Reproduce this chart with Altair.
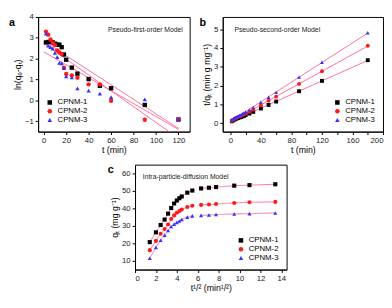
import altair as alt
import pandas as pd

series = ["CPNM-1", "CPNM-2", "CPNM-3"]
colors = ["#000000", "#ff1a1a", "#3333ff"]
shapes = ["square", "circle", "triangle-up"]
line_color = "#ff6f9a"

t_min = [2, 4, 6, 8, 10, 12, 14, 16, 18, 20, 25, 30, 40, 50, 60, 90, 120, 180]
sqrt_t = [1.41, 2.0, 2.45, 2.83, 3.16, 3.46, 3.74, 4.0, 4.24, 4.47, 5.0, 5.48, 6.32, 7.07, 7.75, 9.49, 10.95, 13.42]

# panel a: ln(qe - qt), t up to 120
t_a = [2, 4, 6, 8, 10, 12, 14, 16, 18, 20, 25, 30, 40, 50, 60, 90, 120]
ln_1 = [2.78, 2.80, 2.80, 2.78, 2.72, 2.68, 2.67, 2.55, 2.20, 1.95, 1.57, 1.28, 1.02, 0.70, 0.58, -0.22, -0.92]
ln_2 = [3.30, 3.15, 2.92, 2.75, 2.65, 2.40, 2.30, 2.22, 1.57, 1.27, 1.20, 1.09, 0.77, 0.77, -0.02, -0.93, -0.92]
ln_3 = [3.20, 2.63, 2.55, 2.48, 2.28, 2.08, 1.80, 1.78, 1.55, 1.15, 1.10, 0.58, 0.47, 0.32, 0.15, 0.05, -0.90]

# panel b: t/qt
tq_1 = [0.10, 0.15, 0.20, 0.24, 0.27, 0.30, 0.33, 0.36, 0.39, 0.43, 0.51, 0.60, 0.78, 0.97, 1.15, 1.70, 2.25, 3.35]
tq_2 = [0.12, 0.19, 0.24, 0.28, 0.33, 0.35, 0.39, 0.43, 0.47, 0.51, 0.61, 0.72, 0.95, 1.19, 1.41, 2.09, 2.76, 4.12]
tq_3 = [0.17, 0.23, 0.28, 0.32, 0.37, 0.41, 0.45, 0.50, 0.55, 0.60, 0.71, 0.84, 1.11, 1.38, 1.64, 2.45, 3.24, 4.81]

# panel c: qt
q_1 = [20.7, 26.3, 30.5, 33.6, 37.0, 40.2, 42.8, 44.5, 45.8, 46.8, 49.0, 50.2, 51.4, 51.8, 52.2, 53.0, 53.3, 53.8]
q_2 = [16.1, 21.4, 25.5, 28.2, 30.8, 33.9, 36.0, 37.5, 38.5, 39.3, 40.8, 41.5, 42.0, 42.2, 42.5, 43.1, 43.5, 43.7]
q_3 = [11.5, 17.7, 21.8, 24.7, 27.3, 29.6, 31.0, 32.0, 32.8, 33.6, 35.0, 35.7, 36.0, 36.2, 36.5, 36.8, 37.0, 37.4]
stage = ["1"] * 12 + ["2"] * 6

FONT = "Liberation Sans"

rows_a = []
for s, vals in zip(series, [ln_1, ln_2, ln_3]):
    for t, v in zip(t_a, vals):
        rows_a.append({"series": s, "t": t, "v": v})
df_a = pd.DataFrame(rows_a)

rows_b = []
for s, vals in zip(series, [tq_1, tq_2, tq_3]):
    for t, v in zip(t_min, vals):
        rows_b.append({"series": s, "t": t, "v": v})
df_b = pd.DataFrame(rows_b)

rows_c = []
for s, vals in zip(series, [q_1, q_2, q_3]):
    for x, v, st in zip(sqrt_t, vals, stage):
        rows_c.append({"series": s, "t": x, "v": v, "stage": st})
df_c = pd.DataFrame(rows_c)


def color_enc(orient):
    return alt.Color("series:N", scale=alt.Scale(domain=series, range=colors),
                     legend=alt.Legend(title=None, orient=orient, labelFontSize=8,
                                       labelFont=FONT, symbolSize=22, rowPadding=1,
                                       padding=2, offset=6))


def shape_enc():
    return alt.Shape("series:N", scale=alt.Scale(domain=series, range=shapes), legend=None)


def ax(title, values, fmt=None):
    kw = dict(title=title, values=values, grid=False, tickSize=3, labelFontSize=8,
              titleFontSize=9, titleFontWeight="normal", labelFont=FONT, titleFont=FONT,
              domainColor="black", tickColor="black", labelColor="#222", titlePadding=2,
              labelPadding=2)
    if fmt:
        kw["format"] = fmt
    return alt.Axis(**kw)


def letter(txt, xpix):
    return alt.Chart(pd.DataFrame({"l": [txt]})).mark_text(
        fontSize=11, fontWeight="bold", font=FONT, align="left", baseline="top"
    ).encode(x=alt.value(xpix), y=alt.value(0), text="l:N")


def note(txt, xpix):
    return alt.Chart(pd.DataFrame({"l": [txt]})).mark_text(
        fontSize=7, font=FONT, align="left", baseline="top", color="#222"
    ).encode(x=alt.value(xpix), y=alt.value(9), text="l:N")


# panel a
xa = alt.X("t:Q", scale=alt.Scale(domain=[-5, 130], nice=False), axis=ax("t (min)", [0, 20, 40, 60, 80, 100, 120]))
ya = alt.Y("v:Q", scale=alt.Scale(domain=[-1.5, 4], nice=False), axis=ax("ln(qₑ-qₜ)", [-1, 0, 1, 2, 3, 4]))
base_a = alt.Chart(df_a)
pts_a = base_a.mark_point(filled=True, size=20, opacity=1).encode(
    x=xa, y=ya, color=color_enc("bottom-left"), shape=shape_enc())
reg_a = base_a.transform_regression("t", "v", groupby=["series"], extent=[0, 120]).mark_line(
    color=line_color, strokeWidth=1, clip=True).encode(x=xa, y=ya, detail="series:N")
panel_a = alt.layer(reg_a, pts_a, note("Pseudo-first-order Model", 72), letter("a", -30)).properties(width=156, height=118)

# panel b
xb = alt.X("t:Q", scale=alt.Scale(domain=[-10, 200], nice=False), axis=ax("t (min)", list(range(0, 201, 20))))
yb = alt.Y("v:Q", scale=alt.Scale(domain=[-0.45, 5.65], nice=False), axis=ax("t/qₜ (min g mg⁻¹)", [0, 1, 2, 3, 4, 5]))
base_b = alt.Chart(df_b)
pts_b = base_b.mark_point(filled=True, size=16, opacity=1).encode(
    x=xb, y=yb, color=color_enc("bottom-right"), shape=shape_enc())
reg_b = base_b.transform_regression("t", "v", groupby=["series"], extent=[0, 180]).mark_line(
    color=line_color, strokeWidth=1, clip=True).encode(x=xb, y=yb, detail="series:N")
panel_b = alt.layer(reg_b, pts_b, note("Pseudo-second-order Model", 12), letter("b", -24)).properties(width=165, height=118)

# panel c
xc = alt.X("t:Q", scale=alt.Scale(domain=[0, 14.5], nice=False), axis=ax("t¹/² (min¹/²)", [0, 2, 4, 6, 8, 10, 12, 14]))
yc = alt.Y("v:Q", scale=alt.Scale(domain=[5, 65], nice=False), axis=ax("qₜ (mg g⁻¹)", [10, 20, 30, 40, 50, 60]))
base_c = alt.Chart(df_c)
pts_c = base_c.mark_point(filled=True, size=18, opacity=1).encode(
    x=xc, y=yc, color=color_enc("bottom-right"), shape=shape_enc())
lin_c = base_c.mark_line(color=line_color, strokeWidth=1).encode(
    x=xc, y=yc, detail="series:N", order="t:Q", strokeDash=alt.StrokeDash("stage:N", legend=None, scale=alt.Scale(range=[[1, 0], [1, 0]])))
panel_c = alt.layer(lin_c, pts_c, note("Intra-particle-diffusion Model", 8), letter("c", -28)).properties(width=156, height=108)

top = alt.hconcat(panel_a, panel_b, spacing=8).resolve_scale(color="independent", shape="independent", strokeDash="independent")
chart = alt.vconcat(top, panel_c, spacing=8, center=True).resolve_scale(
    color="independent", shape="independent", strokeDash="independent"
).properties(padding={"left": 0, "top": 0, "right": 0, "bottom": 0}).configure_view(stroke="black", strokeWidth=1)

chart.save("out.html", embed_options={"renderer": "svg", "actions": False})
